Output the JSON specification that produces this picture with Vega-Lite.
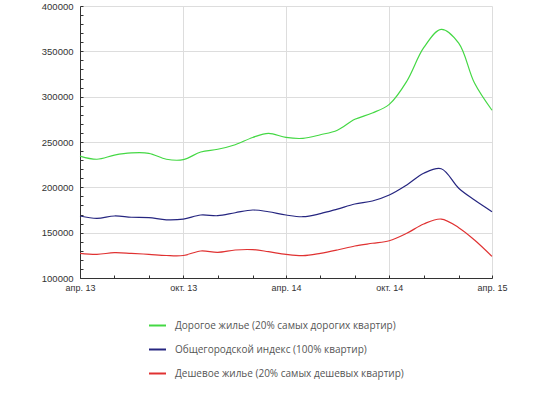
{
  "$schema": "https://vega.github.io/schema/vega-lite/v6.json",
  "width": 412,
  "height": 272,
  "autosize": {"type": "none"},
  "padding": {"left": 80, "top": 6, "right": 48, "bottom": 116},
  "background": "white",
  "config": {"view": {"stroke": null}},
  "data": {
    "values": [
      {"date": "2013-04-01T00:00:00", "g": 234500, "b": 168400, "r": 127200},
      {"date": "2013-05-01T00:00:00", "g": 231000, "b": 165800, "r": 126100},
      {"date": "2013-06-01T00:00:00", "g": 235500, "b": 168400, "r": 128000},
      {"date": "2013-07-01T00:00:00", "g": 237900, "b": 167000, "r": 127200},
      {"date": "2013-08-01T00:00:00", "g": 237500, "b": 166500, "r": 126100},
      {"date": "2013-09-01T00:00:00", "g": 231000, "b": 164200, "r": 124800},
      {"date": "2013-10-01T00:00:00", "g": 230500, "b": 165000, "r": 124800},
      {"date": "2013-11-01T00:00:00", "g": 239000, "b": 169500, "r": 129800},
      {"date": "2013-12-01T00:00:00", "g": 242000, "b": 168700, "r": 128300},
      {"date": "2014-01-01T00:00:00", "g": 247000, "b": 172000, "r": 130900},
      {"date": "2014-02-01T00:00:00", "g": 255000, "b": 175000, "r": 131300},
      {"date": "2014-03-01T00:00:00", "g": 259500, "b": 173100, "r": 129000},
      {"date": "2014-04-01T00:00:00", "g": 255000, "b": 169500, "r": 126000},
      {"date": "2014-05-01T00:00:00", "g": 254000, "b": 167600, "r": 124600},
      {"date": "2014-06-01T00:00:00", "g": 258000, "b": 171000, "r": 127200},
      {"date": "2014-07-01T00:00:00", "g": 263000, "b": 176000, "r": 130900},
      {"date": "2014-08-01T00:00:00", "g": 275000, "b": 181600, "r": 135300},
      {"date": "2014-09-01T00:00:00", "g": 282000, "b": 184900, "r": 138300},
      {"date": "2014-10-01T00:00:00", "g": 291500, "b": 191500, "r": 141100},
      {"date": "2014-11-01T00:00:00", "g": 317000, "b": 202600, "r": 149300},
      {"date": "2014-12-01T00:00:00", "g": 354000, "b": 215500, "r": 159600},
      {"date": "2015-01-01T00:00:00", "g": 374300, "b": 220500, "r": 165000},
      {"date": "2015-02-01T00:00:00", "g": 359000, "b": 199000, "r": 155500},
      {"date": "2015-03-01T00:00:00", "g": 315000, "b": 186000, "r": 141900},
      {"date": "2015-04-01T00:00:00", "g": 285000, "b": 173200, "r": 123800}
    ]
  },
  "transform": [
    {"fold": ["g", "b", "r"], "as": ["series", "value"]}
  ],
  "mark": {"type": "line", "interpolate": "catmull-rom", "strokeWidth": 1.2},
  "encoding": {
    "x": {
      "field": "date",
      "type": "temporal",
      "scale": {"domain": [{"year": 2013, "month": 4, "date": 1}, {"year": 2015, "month": 4, "date": 1}]},
      "axis": {
        "title": null,
        "values": [
          {"year": 2013, "month": 4, "date": 1}, {"year": 2013, "month": 6, "date": 1},
          {"year": 2013, "month": 8, "date": 1}, {"year": 2013, "month": 10, "date": 1},
          {"year": 2013, "month": 12, "date": 1}, {"year": 2014, "month": 2, "date": 1},
          {"year": 2014, "month": 4, "date": 1}, {"year": 2014, "month": 6, "date": 1},
          {"year": 2014, "month": 8, "date": 1}, {"year": 2014, "month": 10, "date": 1},
          {"year": 2014, "month": 12, "date": 1}, {"year": 2015, "month": 2, "date": 1},
          {"year": 2015, "month": 4, "date": 1}
        ],
        "labelExpr": "month(datum.value) == 3 ? 'апр. ' + timeFormat(datum.value, '%y') : (month(datum.value) == 9 ? 'окт. ' + timeFormat(datum.value, '%y') : '')",
        "labelFont": "Liberation Sans",
        "labelFontSize": 9,
        "labelColor": "#333333",
        "labelPadding": 8,
        "labelFlush": false,
        "tickSize": -3,
        "tickColor": "#333333",
        "domainColor": "#333333",
        "gridColor": "#dddddd",
        "grid": true,
        "gridOpacity": {"condition": {"test": "month(datum.value) % 6 == 3", "value": 1}, "value": 0}
      }
    },
    "y": {
      "field": "value",
      "type": "quantitative",
      "scale": {"domain": [100000, 400000], "nice": false, "zero": false},
      "axis": {
        "title": null,
        "values": [100000, 110000, 120000, 130000, 140000, 150000, 160000, 170000, 180000, 190000, 200000, 210000, 220000, 230000, 240000, 250000, 260000, 270000, 280000, 290000, 300000, 310000, 320000, 330000, 340000, 350000, 360000, 370000, 380000, 390000, 400000],
        "format": "d",
        "labelExpr": "datum.value % 50000 == 0 ? datum.label : ''",
        "labelFont": "Liberation Sans",
        "labelFontSize": 9.5,
        "labelColor": "#333333",
        "labelPadding": 10,
        "labelFlush": false,
        "tickSize": -3,
        "tickColor": "#333333",
        "domainColor": "#333333",
        "gridColor": "#dddddd",
        "grid": true,
        "gridOpacity": {"condition": {"test": "datum.value % 50000 == 0", "value": 1}, "value": 0}
      }
    },
    "color": {
      "field": "series",
      "type": "nominal",
      "scale": {"domain": ["g", "b", "r"], "range": ["#44d844", "#262680", "#e03232"]},
      "legend": {
        "title": null,
        "orient": "none",
        "legendX": 68,
        "legendY": 310,
        "direction": "vertical",
        "padding": 0,
        "symbolType": "stroke",
        "symbolSize": 289,
        "symbolStrokeWidth": 2,
        "rowPadding": 9,
        "labelOffset": 8,
        "labelFont": "Open Sans",
        "labelFontSize": 10,
        "labelColor": "#555555",
        "labelLimit": 400,
        "labelExpr": "datum.value == 'g' ? 'Дорогое жилье (20% самых дорогих квартир)' : (datum.value == 'b' ? 'Общегородской индекс (100% квартир)' : 'Дешевое жилье (20% самых дешевых квартир)')"
      }
    }
  }
}
